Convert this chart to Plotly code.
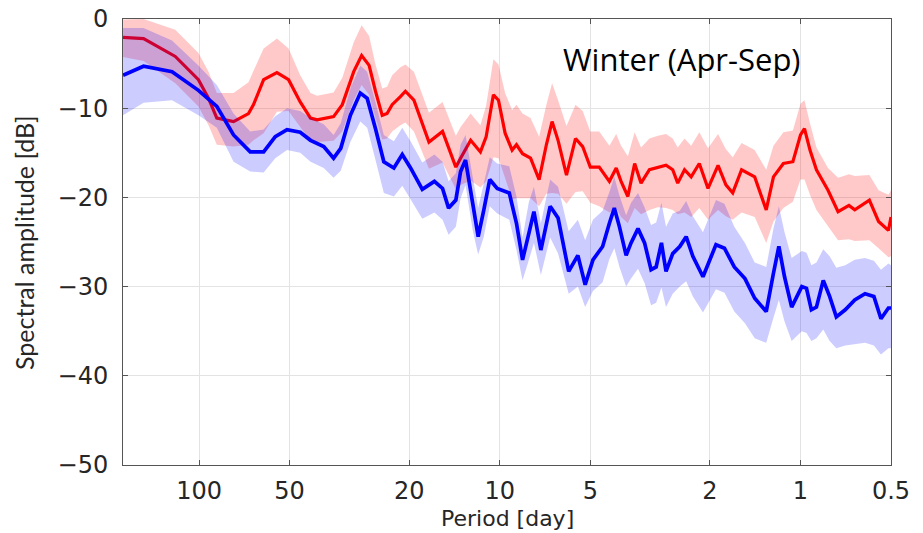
import plotly.graph_objects as go

# ---------------- data ----------------
red_period = [179, 153, 120, 100.5, 93, 87.3, 76.8, 68.5, 65.9, 61,
              55.1, 50.4, 46.1, 42.6, 40.5, 35.7, 33.4, 30.6, 28.8, 27.2,
              25.9, 24.6, 23.7, 22.8, 21.4, 20.6, 19.3, 17.2, 15.5, 14.0,
              13.5, 12.5, 11.6, 11.1, 10.5, 10.1, 9.6, 9.1, 8.8, 8.4,
              7.9, 7.4, 7.0, 6.7, 6.4, 6.0, 5.6, 5.3, 5.0, 4.67,
              4.32, 4.10, 3.95, 3.75, 3.56, 3.39, 3.18, 2.98, 2.80, 2.66,
              2.56, 2.43, 2.31, 2.17, 2.03, 1.88, 1.77, 1.68, 1.57, 1.42,
              1.30, 1.23, 1.14, 1.06, 1.00, 0.97, 0.93, 0.885, 0.81, 0.75,
              0.69, 0.66, 0.59, 0.55, 0.51, 0.50]
red_db = [-2.05, -2.2, -4.2, -6.8, -8.9, -11.1, -11.5, -10.6, -9.6, -6.8,
          -6.0, -6.8, -9.3, -11.1, -11.3, -10.95, -9.6, -5.9, -4.1, -5.2,
          -8.1, -10.8, -10.6, -9.6, -8.7, -8.1, -9.1, -13.8, -12.6, -16.6,
          -15.6, -13.6, -14.9, -13.2, -8.5, -9.1, -12.8, -14.7, -14.1, -15.1,
          -15.6, -18.0, -14.1, -11.5, -13.6, -17.5, -13.4, -14.3, -16.6, -16.6,
          -18.2, -16.7, -18.2, -19.9, -16.2, -18.4, -16.9, -16.6, -16.4, -16.9,
          -18.4, -16.9, -17.7, -16.2, -19.0, -16.4, -18.6, -19.5, -16.9, -17.7,
          -21.4, -17.7, -16.2, -16.0, -13.0, -12.3, -14.7, -16.9, -19.2, -21.6,
          -20.9, -21.4, -20.3, -22.7, -23.7, -22.2]
red_up = [2.0, 2.2, 3.0, 3.0, 3.0, 2.8, 3.2, 3.5, 3.8, 3.5,
          3.8, 3.5, 3.0, 2.8, 2.7, 2.7, 3.0, 3.3, 3.4, 3.3,
          3.0, 3.0, 3.0, 3.3, 3.3, 3.0, 3.2, 3.3, 3.3, 3.5,
          3.5, 3.0, 3.0, 3.5, 4.0, 4.0, 4.5, 4.5, 4.5, 4.5,
          4.5, 4.8, 4.5, 4.3, 4.5, 5.5, 3.8, 4.0, 4.0, 4.0,
          4.0, 3.8, 4.0, 4.5, 3.5, 4.0, 3.5, 3.5, 3.5, 3.5,
          4.0, 3.5, 3.5, 3.5, 4.5, 3.5, 4.0, 4.0, 3.0, 3.0,
          4.5, 3.5, 3.5, 3.5, 3.5, 3.2, 3.0, 2.5, 2.5, 3.8,
          3.5, 3.8, 2.8, 3.5, 4.0, 3.0]
red_dn = [2.2, 2.5, 3.0, 3.0, 3.0, 3.0, 2.8, 3.5, 4.0, 6.0,
          4.4, 3.5, 2.8, 2.5, 2.5, 2.7, 3.0, 3.2, 3.3, 3.3,
          3.0, 2.7, 2.8, 3.0, 3.2, 3.5, 3.5, 3.0, 3.5, 2.5,
          3.0, 4.5, 4.0, 5.0, 7.0, 6.5, 5.0, 5.5, 6.0, 5.0,
          4.5, 3.0, 5.5, 8.0, 6.0, 3.2, 6.0, 5.0, 4.0, 4.4,
          3.5, 4.5, 4.0, 3.0, 5.0, 3.5, 4.5, 4.5, 4.8, 4.5,
          3.5, 4.8, 4.5, 5.0, 3.5, 5.0, 3.5, 3.0, 4.8, 4.5,
          3.7, 5.0, 5.0, 4.5, 5.0, 5.7, 5.0, 4.5, 4.0, 3.2,
          3.8, 3.5, 4.5, 3.0, 3.0, 4.4]

blue_period = [179, 153, 123, 100.5, 87.3, 76.8, 67.6, 61,
               55.8, 51, 46.1, 42.6, 38.5, 35.7, 33.8, 31.4, 29.1, 27.6,
               25.9, 24.3, 22.5, 21.1, 19.8, 18.1, 16.5, 15.5, 14.8, 14.0,
               13.5, 13.0, 12.3, 11.8, 11.3, 10.8, 10.2, 9.3, 8.8, 8.4,
               8.0, 7.7, 7.3, 6.8, 6.4, 5.9, 5.5, 5.2, 4.9, 4.55,
               4.32, 4.16, 4.00, 3.80, 3.66, 3.47, 3.30, 3.14, 3.02, 2.90,
               2.80, 2.66, 2.52, 2.40, 2.28, 2.11, 1.91, 1.79, 1.66, 1.53,
               1.42, 1.30, 1.23, 1.18, 1.13, 1.07, 0.99, 0.955, 0.92,
               0.885, 0.84, 0.80, 0.76, 0.71, 0.66, 0.61, 0.57, 0.54, 0.51, 0.50]
blue_db = [-6.3, -5.3, -5.9, -8.0, -9.8, -13.0, -14.9, -14.9,
           -13.2, -12.4, -12.7, -13.6, -14.3, -15.6, -14.5, -10.8, -8.3, -8.9,
           -12.3, -16.0, -16.7, -15.2, -16.7, -19.1, -18.2, -19.0, -21.2, -20.3,
           -17.1, -15.8, -20.7, -24.4, -21.4, -18.0, -19.0, -19.5, -22.9, -27.0,
           -24.0, -21.6, -25.9, -21.0, -22.3, -28.3, -26.5, -29.8, -27.0, -25.5,
           -22.9, -21.2, -23.3, -26.5, -25.1, -23.5, -25.1, -28.1, -27.8, -25.1,
           -28.3, -26.3, -25.5, -24.4, -26.6, -28.9, -25.3, -25.7, -27.8, -29.1,
           -31.3, -32.8, -28.5, -25.5, -28.9, -32.3, -30.0, -30.2, -32.6,
           -32.3, -29.3, -31.1, -33.4, -32.6, -31.5, -30.8, -31.1, -33.6, -32.4, -32.4]
blue_up = [5.3, 4.3, 3.5, 2.8, 2.4, 2.4, 2.3, 2.5,
           2.3, 2.4, 2.4, 2.5, 2.5, 2.6, 2.8, 3.0, 3.1, 3.0,
           3.0, 3.0, 3.0, 3.0, 3.0, 3.0, 3.0, 3.0, 3.0, 3.0,
           3.0, 2.8, 3.0, 3.2, 3.0, 2.5, 2.8, 3.0, 3.0, 2.5,
           3.5, 2.8, 3.0, 3.0, 3.5, 4.5, 4.0, 5.0, 4.5, 4.0,
           3.5, 3.5, 3.5, 4.5, 4.5, 4.0, 4.0, 5.0, 5.0, 4.5,
           5.0, 4.5, 4.0, 4.0, 4.5, 5.0, 5.0, 5.0, 4.5, 4.0,
           4.0, 5.0, 5.0, 4.5, 5.0, 5.5, 4.0, 4.0, 5.0,
           5.0, 3.5, 4.5, 5.5, 5.0, 4.5, 4.0, 4.0, 5.5, 5.0, 4.8]
blue_dn = [4.5, 4.1, 3.2, 2.8, 2.4, 3.0, 2.2, 2.3,
           2.4, 2.3, 2.3, 2.4, 2.4, 2.2, 2.5, 3.0, 3.2, 3.3,
           3.5, 3.5, 3.2, 3.5, 3.5, 3.3, 3.5, 3.5, 3.0, 3.0,
           3.0, 2.8, 3.0, 2.0, 3.0, 3.0, 2.8, 3.0, 3.0, 2.3,
           3.0, 3.5, 2.8, 3.5, 4.0, 2.5, 3.5, 2.5, 3.5, 4.0,
           4.0, 4.5, 4.5, 3.5, 4.0, 4.5, 4.5, 4.0, 4.0, 5.0,
           4.0, 4.5, 4.5, 5.0, 4.5, 4.0, 5.0, 5.0, 5.0, 5.0,
           4.5, 3.5, 5.0, 6.0, 5.0, 3.8, 5.0, 5.0, 3.5,
           3.5, 5.5, 5.0, 3.5, 4.0, 5.0, 5.5, 5.5, 4.0, 4.5, 4.5]

x_tickvals = [100, 50, 20, 10, 5, 2, 1, 0.5]
x_ticktext = ["100", "50", "20", "10", "5", "2", "1", "0.5"]
y_tickvals = [0, -10, -20, -30, -40, -50]
y_ticktext = ["0", "\u221210", "\u221220", "\u221230", "\u221240", "\u221250"]


def band_trace(period, db, up, dn, fill):
    hi = [d + u for d, u in zip(db, up)]
    lo = [d - l for d, l in zip(db, dn)]
    return go.Scatter(x=list(period) + list(period[::-1]),
                      y=hi + lo[::-1], fill="toself", fillcolor=fill,
                      line=dict(width=0), mode="lines", hoverinfo="skip",
                      showlegend=False)


fig = go.Figure()
fig.add_trace(band_trace(red_period, red_db, red_up, red_dn, "rgba(255,0,0,0.21)"))
fig.add_trace(go.Scatter(x=red_period, y=red_db, mode="lines",
                         line=dict(color="#ff0000", width=3.2), showlegend=False))
fig.add_trace(band_trace(blue_period, blue_db, blue_up, blue_dn, "rgba(0,0,255,0.2)"))
fig.add_trace(go.Scatter(x=blue_period, y=blue_db, mode="lines",
                         line=dict(color="#0000ff", width=3.7), showlegend=False))

axis_common = dict(showline=True, linecolor="#555555", linewidth=1, mirror="ticks",
                   ticks="inside", ticklen=5, tickcolor="#555555", automargin=False,
                   ticklabeloverflow="allow",
                   showgrid=True, gridcolor="#e3e3e3", gridwidth=1, zeroline=False,
                   tickfont=dict(family="DejaVu Sans", size=24, color="#262626"))

# plot area in the window spans x 123..891, y 19..465 (body margin removed)
fig.update_layout(
    width=923, height=533,
    margin=dict(l=123, r=32, t=19, b=68, autoexpand=False),
    paper_bgcolor="white", plot_bgcolor="white",
    xaxis=dict(type="log", range=[2.253, -0.301], tickvals=x_tickvals,
               ticktext=x_ticktext, ticklabelstandoff=4, **axis_common),
    yaxis=dict(range=[-50, 0], tickvals=y_tickvals, ticktext=y_ticktext,
               ticklabelstandoff=9, **axis_common),
    annotations=[
        dict(text="Winter (Apr-Sep)", xref="paper", yref="paper",
             x=(682 - 123) / 768, y=(465 - 59) / 446, xanchor="center", yanchor="middle",
             showarrow=False, font=dict(family="Open Sans", size=31, color="black")),
        dict(text="Spectral amplitude [dB]", xref="paper", yref="paper",
             x=(24 - 123) / 768, y=(465 - 243) / 446, xanchor="center", yanchor="middle",
             textangle=-90, showarrow=False,
             font=dict(family="Lato", size=25, color="#262626")),
        dict(text="Period [day]", xref="paper", yref="paper",
             x=0.5, y=-(504 - 465) / 446, xanchor="center", yanchor="top",
             showarrow=False, font=dict(family="DejaVu Sans", size=22, color="#262626")),
    ],
)

fig.write_html("out.html", config={"displayModeBar": False},
               post_script="document.body.style.margin='0';document.body.style.padding='0';")
